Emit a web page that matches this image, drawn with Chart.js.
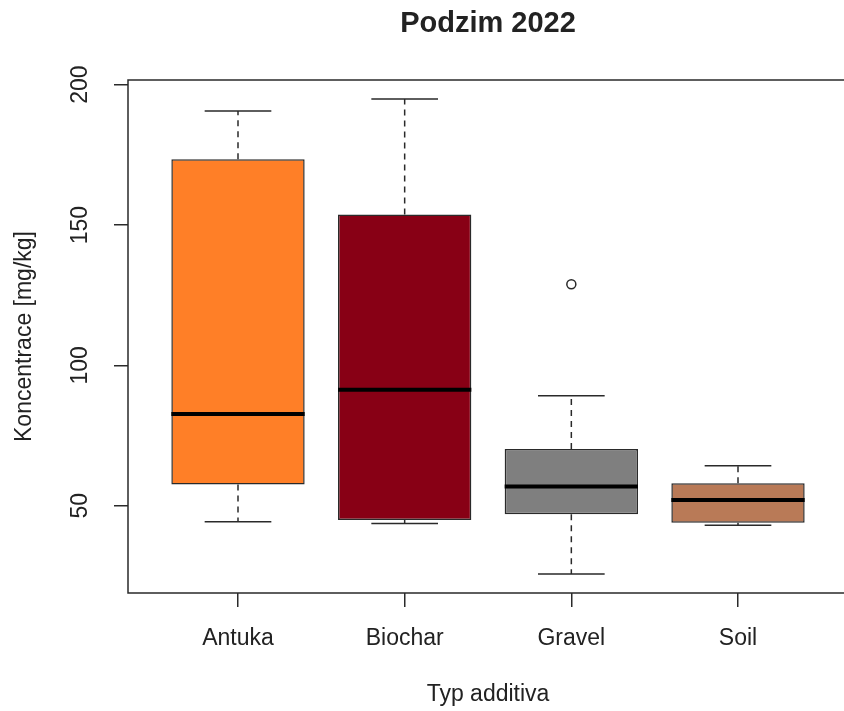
<!DOCTYPE html>
<html lang="cs">
<head>
  <meta charset="UTF-8" />
  <title>Podzim 2022</title>
  <!-- Chart.js via CDN -->
  <script src="https://cdn.jsdelivr.net/npm/chart.js"></script>
  <style>
    html, body { margin: 0; padding: 0; background: #fff; overflow: hidden; }
  </style>
</head>
<body>
  <canvas id="boxChart" width="844" height="711"></canvas>

  <script>
    // box plot values
    const categories  = ["Antuka", "Biochar", "Gravel", "Soil"];
    const whiskerLow  = [44.3, 43.7, 25.7, 43.1];
    const q1          = [57.6, 44.9, 47.0, 44.0];
    const median      = [82.7, 91.3, 56.9, 52.1];
    const q3          = [173.4, 153.8, 70.2, 58.0];
    const whiskerHigh = [190.6, 194.9, 89.2, 64.3];
    const outlierCats = ["Gravel"];
    const outlierVals = [128.9];
    const yTicks      = [50, 100, 150, 200];
    const boxColors   = ["#FF7F27", "#880015", "#7F7F7F", "#B97A57"];

    const FONT = "'Liberation Sans', Arial, sans-serif";
    const INK  = "#222";
    const LINE = "#2a2a2a";

    // R style range: data range + 4% each side
    const allVals = whiskerLow.concat(whiskerHigh, outlierVals);
    const lo = Math.min(...allVals), hi = Math.max(...allVals);
    const yMin = lo - (hi - lo) * 0.04;
    const yMax = hi + (hi - lo) * 0.04;
    // the export cuts the plot just before its right edge (4.66)
    const xMin = 0.34, xMax = 4.6;

    // whiskers, staples, medians, frame, title and rotated y labels
    const boxParts = {
      id: "boxParts",
      beforeDatasetsDraw(chart) {
        const { ctx, scales: { x, y } } = chart;
        ctx.save();
        ctx.strokeStyle = LINE;
        ctx.lineWidth = 1.5;
        categories.forEach((c, i) => {
          const cx = x.getPixelForValue(i + 1);
          const half = x.getPixelForValue(i + 1.2) - cx;
          ctx.setLineDash([6, 5]);
          ctx.beginPath();
          ctx.moveTo(cx, y.getPixelForValue(q3[i]));
          ctx.lineTo(cx, y.getPixelForValue(whiskerHigh[i]));
          ctx.moveTo(cx, y.getPixelForValue(q1[i]));
          ctx.lineTo(cx, y.getPixelForValue(whiskerLow[i]));
          ctx.stroke();
          ctx.setLineDash([]);
          ctx.beginPath();
          [whiskerHigh[i], whiskerLow[i]].forEach(v => {
            const py = y.getPixelForValue(v);
            ctx.moveTo(cx - half, py);
            ctx.lineTo(cx + half, py);
          });
          ctx.stroke();
        });
        ctx.restore();
      },
      afterDatasetsDraw(chart) {
        const { ctx, scales: { x, y } } = chart;
        ctx.save();
        ctx.strokeStyle = "#000";
        ctx.lineWidth = 4;
        categories.forEach((c, i) => {
          const l = x.getPixelForValue(i + 0.6), r = x.getPixelForValue(i + 1.4);
          const py = y.getPixelForValue(median[i]);
          ctx.beginPath();
          ctx.moveTo(l, py);
          ctx.lineTo(r, py);
          ctx.stroke();
        });
        ctx.restore();
      },
      afterDraw(chart) {
        const { ctx, chartArea: a, scales: { x, y } } = chart;
        ctx.save();
        ctx.strokeStyle = LINE;
        ctx.lineWidth = 1.5;
        // open frame: right side is off the picture
        ctx.beginPath();
        ctx.moveTo(chart.width + 10, a.top);
        ctx.lineTo(a.left, a.top);
        ctx.lineTo(a.left, a.bottom);
        ctx.lineTo(chart.width + 10, a.bottom);
        ctx.stroke();

        ctx.fillStyle = INK;
        ctx.font = "bold 29px " + FONT;
        ctx.textAlign = "center";
        ctx.textBaseline = "middle";
        ctx.fillText("Podzim 2022", x.getPixelForValue((categories.length + 1) / 2), 24);

        ctx.font = "23px " + FONT;
        ctx.fillText("Typ additiva", x.getPixelForValue((categories.length + 1) / 2), 695);

        y.ticks.forEach(t => {
          ctx.save();
          ctx.translate(81, y.getPixelForValue(t.value));
          ctx.rotate(-Math.PI / 2);
          ctx.fillText(String(t.value), 0, 0);
          ctx.restore();
        });
        ctx.restore();
      }
    };

    const ctx = document.getElementById("boxChart").getContext("2d");
    const chart = new Chart(ctx, {
      type: "bar",
      data: {
        datasets: [{
          label: "IQR",
          data: categories.map((c, i) => ({ x: i + 1, y: [q1[i], q3[i]] })),
          backgroundColor: boxColors,
          borderColor: LINE,
          borderWidth: 1.5,
          borderSkipped: false,
          categoryPercentage: 1,
          barPercentage: 0.8
        }, {
          type: "scatter",
          label: "outliers",
          data: outlierCats.map((c, i) => ({ x: categories.indexOf(c) + 1, y: outlierVals[i] })),
          pointRadius: 4.5,
          pointBorderWidth: 1.5,
          borderColor: LINE,
          backgroundColor: "rgba(0,0,0,0)"
        }]
      },
      options: {
        responsive: false,
        animation: false,
        layout: { padding: { top: 80, right: 0, left: 0, bottom: 0 } },
        plugins: { legend: { display: false }, tooltip: { enabled: false }, title: { display: false } },
        scales: {
          x: {
            type: "linear",
            min: xMin, max: xMax,
            offset: false,
            afterBuildTicks: s => { s.ticks = categories.map((c, i) => ({ value: i + 1 })); },
            afterFit: s => { s.height = 118; s.paddingLeft = 0; s.paddingRight = 0; },
            ticks: {
              callback: v => categories[Math.round(v) - 1],
              font: { family: FONT, size: 23 }, color: INK,
              padding: 18, autoSkip: false, maxRotation: 0
            },
            grid: { drawOnChartArea: false, drawTicks: true, tickLength: 14, color: LINE, lineWidth: 1.5, offset: false },
            border: { display: false },
            title: { display: false }
          },
          y: {
            type: "linear",
            min: yMin, max: yMax,
            afterBuildTicks: s => { s.ticks = yTicks.map(v => ({ value: v })); },
            afterFit: s => { s.width = 128; s.paddingTop = 0; s.paddingBottom = 0; },
            ticks: { display: false },
            grid: { drawOnChartArea: false, drawTicks: true, tickLength: 14, color: LINE, lineWidth: 1.5 },
            border: { display: false },
            title: { display: true, text: "Koncentrace [mg/kg]", color: INK,
                     font: { family: FONT, size: 23 }, padding: { top: 11, bottom: 0 } }
          }
        }
      },
      plugins: [boxParts]
    });
  </script>
</body>
</html>
